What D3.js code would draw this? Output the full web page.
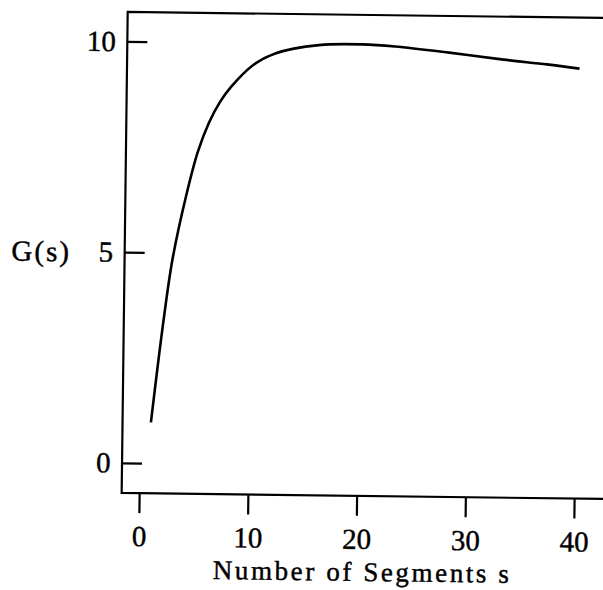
<!DOCTYPE html>
<html>
<head>
<meta charset="utf-8">
<script src="https://cdn.jsdelivr.net/npm/d3@7"></script>
<style>
  html, body { margin: 0; padding: 0; background: #fff; }
  svg { display: block; }
  text { font-family: "Liberation Serif", "DejaVu Serif", serif; fill: #000; stroke: #000; stroke-width: 0.45px; }
</style>
</head>
<body>
<svg class="svg"></svg>
<script>
// values
const segments = [1, 2, 2.8, 4, 5, 6, 7, 8, 10, 12, 16, 20, 23, 28, 33, 37, 40];
const gain = [0.97, 3.3, 4.85, 6.38, 7.4, 8.1, 8.6, 8.96, 9.48, 9.76, 9.97, 10.0, 9.96, 9.83, 9.68, 9.58, 9.49];
const xTicks = [0, 10, 20, 30, 40];
const yTicks = [0, 5, 10];
const xTitle = 'Number of Segments s';
const yTitle = 'G(s)';

function drawChart() {
    const width = 603;
    const height = 590;
    const frame = { left: 121.5, top: 12, bottom: 493 };
    const fontSize = 29;

    const svg = d3.select('.svg')
        .attr('width', width)
        .attr('height', height);

    // the scan is tilted a little clockwise
    const g = svg.append('g')
        .attr('transform', 'rotate(0.72, 130, 505)');

    /* SCALES */
    const xScale = d3.scaleLinear()
        .domain([0, 40])
        .range([139, 574]);
    const yScale = d3.scaleLinear()
        .domain([0, 10])
        .range([463, 41.5]);

    /* frame: left, top and bottom lines */
    g.append('path')
        .attr('d', `M${width + 20},${frame.top} H${frame.left} V${frame.bottom} H${width + 20}`)
        .attr('fill', 'none')
        .attr('stroke', '#000')
        .attr('stroke-width', 2.2);

    /* Y AXIS, ticks point inward */
    const yAxis = d3.axisLeft(yScale)
        .tickValues(yTicks)
        .tickFormat(d3.format('d'))
        .tickSizeInner(-20)
        .tickSizeOuter(0)
        .tickPadding(11.5);
    const yG = g.append('g')
        .attr('id', 'y-axis')
        .attr('transform', `translate(${frame.left}, 0)`)
        .call(yAxis);

    /* X AXIS, ticks point outward */
    const xAxis = d3.axisBottom(xScale)
        .tickValues(xTicks)
        .tickFormat(d3.format('d'))
        .tickSizeInner(20)
        .tickSizeOuter(0)
        .tickPadding(12.4);
    const xG = g.append('g')
        .attr('id', 'x-axis')
        .attr('transform', `translate(0, ${frame.bottom})`)
        .call(xAxis);

    [xG, yG].forEach(ax => {
        ax.select('.domain').remove();
        ax.attr('font-family', null).attr('font-size', null);
        ax.selectAll('line').attr('stroke', '#000').attr('stroke-width', 2.2);
        ax.selectAll('text').style('font-size', fontSize + 'px');
    });

    /* titles */
    g.append('text')
        .attr('x', 363)
        .attr('y', 578)
        .attr('text-anchor', 'middle')
        .style('font-size', '27px')
        .style('letter-spacing', '2.6px')
        .text(xTitle);

    g.append('text')
        .attr('x', 38)
        .attr('y', 262)
        .attr('text-anchor', 'middle')
        .style('font-size', fontSize + 'px')
        .style('letter-spacing', '2px')
        .text(yTitle);

    /* curve */
    const line = d3.line()
        .x((d, i) => xScale(segments[i]))
        .y(d => yScale(d))
        .curve(d3.curveCatmullRom.alpha(0.5));

    g.append('path')
        .datum(gain)
        .attr('d', line)
        .attr('fill', 'none')
        .attr('stroke', '#000')
        .attr('stroke-width', 2.6)
        .attr('stroke-linejoin', 'round');
}

document.addEventListener('DOMContentLoaded', e => drawChart());
</script>
</body>
</html>
